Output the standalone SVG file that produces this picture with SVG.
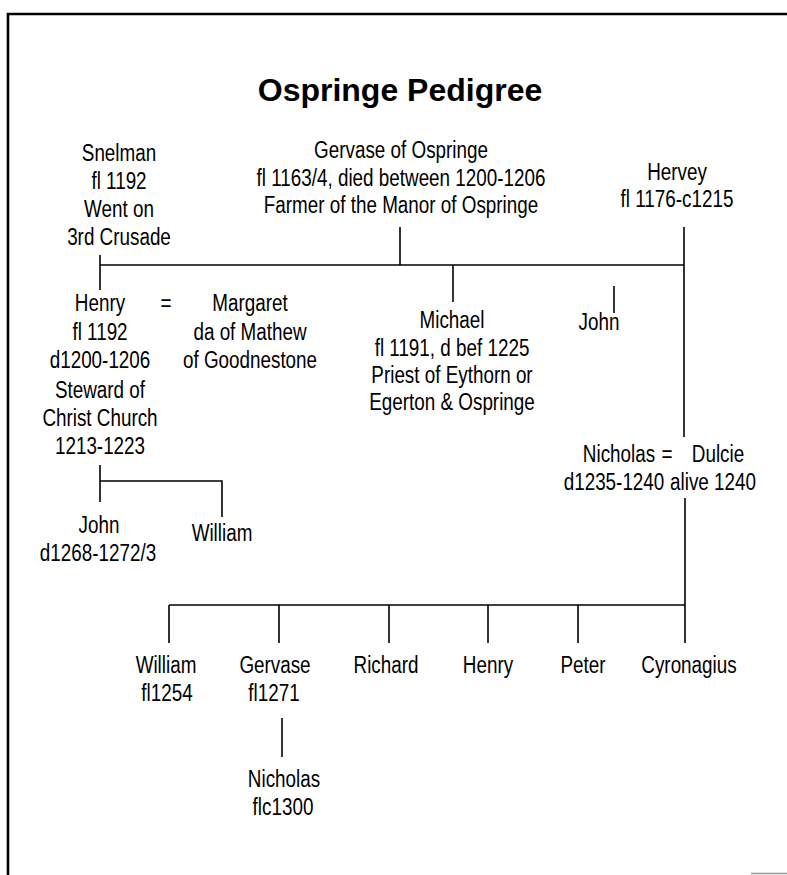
<svg xmlns="http://www.w3.org/2000/svg" width="787" height="875" viewBox="0 0 787 875">
<style>
.t{font-family:"Liberation Sans",Arial,sans-serif;font-size:23px;fill:#000;text-anchor:middle}
.title{font-family:"Liberation Sans",Arial,sans-serif;font-size:32px;font-weight:bold;fill:#000;text-anchor:middle}
.c{stroke:#000;stroke-width:1.6;fill:none}
.b{stroke:#000;stroke-width:2.6;fill:none}
</style>
<rect width="787" height="875" fill="#fff"/>
<g id="border">
<path class="b" d="M8 875 V14 H787"/>
<path d="M751 873.5 H787" stroke="#999" stroke-width="1.5"/>
</g>
<text class="title" x="400" y="101">Ospringe Pedigree</text>
<g id="connectors">
<path class="c" d="M400 227 V265"/>
<path class="c" d="M100 265 H684"/>
<path class="c" d="M100 255 V290"/>
<path class="c" d="M453 265 V302"/>
<path class="c" d="M614 286 V313"/>
<path class="c" d="M684 227 V437"/>
<path class="c" d="M100 465 V502"/>
<path class="c" d="M100 481 H222 V517"/>
<path class="c" d="M685 498 V643"/>
<path class="c" d="M169 605 H685"/>
<path class="c" d="M169 605 V643 M279 605 V643 M389 605 V643 M488 605 V643 M578 605 V643"/>
<path class="c" d="M282 718 V757"/>
</g>
<g id="snelman">
<text class="t" transform="translate(119 161) scale(.82 1)">Snelman</text>
<text class="t" transform="translate(119 189) scale(.82 1)">fl 1192</text>
<text class="t" transform="translate(119 217) scale(.82 1)">Went on</text>
<text class="t" transform="translate(119 245) scale(.82 1)">3rd Crusade</text>
</g>
<g id="gervase">
<text class="t" transform="translate(401 158) scale(.82 1)">Gervase of Ospringe</text>
<text class="t" transform="translate(401 186) scale(.82 1)">fl 1163/4, died between 1200-1206</text>
<text class="t" transform="translate(401 213) scale(.82 1)">Farmer of the Manor of Ospringe</text>
</g>
<g id="hervey">
<text class="t" transform="translate(677 180) scale(.82 1)">Hervey</text>
<text class="t" transform="translate(677 207) scale(.82 1)">fl 1176-c1215</text>
</g>
<g id="henry">
<text class="t" transform="translate(100 311) scale(.82 1)">Henry</text>
<text class="t" transform="translate(100 340) scale(.82 1)">fl 1192</text>
<text class="t" transform="translate(100 368) scale(.82 1)">d1200-1206</text>
<text class="t" transform="translate(100 398) scale(.82 1)">Steward of</text>
<text class="t" transform="translate(100 426) scale(.82 1)">Christ Church</text>
<text class="t" transform="translate(100 454) scale(.82 1)">1213-1223</text>
</g>
<g id="henry-margaret-marriage">
<text class="t" transform="translate(166 311) scale(.82 1)">=</text>
</g>
<g id="margaret">
<text class="t" transform="translate(250 311) scale(.82 1)">Margaret</text>
<text class="t" transform="translate(250 340) scale(.82 1)">da of Mathew</text>
<text class="t" transform="translate(250 368) scale(.82 1)">of Goodnestone</text>
</g>
<g id="michael">
<text class="t" transform="translate(452 328) scale(.82 1)">Michael</text>
<text class="t" transform="translate(452 356) scale(.82 1)">fl 1191, d bef 1225</text>
<text class="t" transform="translate(452 383) scale(.82 1)">Priest of Eythorn or</text>
<text class="t" transform="translate(452 410) scale(.82 1)">Egerton &amp; Ospringe</text>
</g>
<g id="john1">
<text class="t" transform="translate(599 330) scale(.82 1)">John</text>
</g>
<g id="nicholas1">
<text class="t" transform="translate(619 462) scale(.82 1)">Nicholas</text>
<text class="t" transform="translate(614 490) scale(.82 1)">d1235-1240</text>
</g>
<g id="nicholas-dulcie-marriage">
<text class="t" transform="translate(667 462) scale(.82 1)">=</text>
</g>
<g id="dulcie">
<text class="t" transform="translate(718 462) scale(.82 1)">Dulcie</text>
<text class="t" transform="translate(713 490) scale(.82 1)">alive 1240</text>
</g>
<g id="john2">
<text class="t" transform="translate(99 533) scale(.82 1)">John</text>
<text class="t" transform="translate(98 561) scale(.82 1)">d1268-1272/3</text>
</g>
<g id="william1">
<text class="t" transform="translate(222 541) scale(.82 1)">William</text>
</g>
<g id="william2">
<text class="t" transform="translate(166 673) scale(.82 1)">William</text>
<text class="t" transform="translate(167 701) scale(.82 1)">fl1254</text>
</g>
<g id="gervase2">
<text class="t" transform="translate(275 673) scale(.82 1)">Gervase</text>
<text class="t" transform="translate(274 701) scale(.82 1)">fl1271</text>
</g>
<g id="richard">
<text class="t" transform="translate(386 673) scale(.82 1)">Richard</text>
</g>
<g id="henry2">
<text class="t" transform="translate(488 673) scale(.82 1)">Henry</text>
</g>
<g id="peter">
<text class="t" transform="translate(583 673) scale(.82 1)">Peter</text>
</g>
<g id="cyronagius">
<text class="t" transform="translate(689 673) scale(.82 1)">Cyronagius</text>
</g>
<g id="nicholas2">
<text class="t" transform="translate(284 787) scale(.82 1)">Nicholas</text>
<text class="t" transform="translate(283 815) scale(.82 1)">flc1300</text>
</g>
</svg>
